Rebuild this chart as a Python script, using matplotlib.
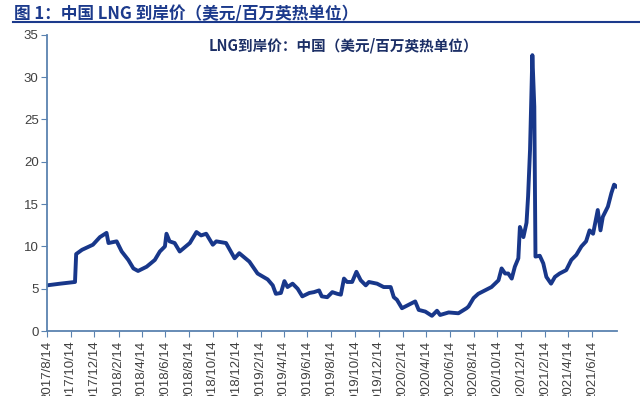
import matplotlib
matplotlib.use('Agg')
import matplotlib.pyplot as plt
import pandas as pd

# LNG landed price, China (USD/MMBtu)
dates = [
    "2017-08-14", "2017-09-17", "2017-10-25", "2017-10-28", "2017-11-12",
    "2017-12-10", "2017-12-28", "2018-01-14", "2018-01-19", "2018-02-09",
    "2018-02-22", "2018-03-11", "2018-03-24", "2018-04-05", "2018-04-27",
    "2018-05-18", "2018-05-31", "2018-06-13", "2018-06-17", "2018-06-25",
    "2018-07-08", "2018-07-21", "2018-08-16", "2018-09-02", "2018-09-14",
    "2018-09-27", "2018-10-14", "2018-10-23", "2018-11-17", "2018-12-09",
    "2018-12-21", "2019-01-16", "2019-02-06", "2019-03-04", "2019-03-17",
    "2019-03-25", "2019-04-07", "2019-04-16", "2019-04-24", "2019-05-07",
    "2019-05-20", "2019-06-01", "2019-06-19", "2019-07-01", "2019-07-14",
    "2019-07-21", "2019-08-04", "2019-08-17", "2019-08-30", "2019-09-08",
    "2019-09-16", "2019-09-24", "2019-10-07", "2019-10-18", "2019-10-29",
    "2019-11-11", "2019-11-19", "2019-12-10", "2019-12-27", "2020-01-14",
    "2020-01-22", "2020-01-30", "2020-02-12", "2020-02-29", "2020-03-17",
    "2020-03-26", "2020-04-12", "2020-04-29", "2020-05-12", "2020-05-20",
    "2020-06-11", "2020-07-06", "2020-07-27", "2020-08-01", "2020-08-14",
    "2020-08-26", "2020-09-12", "2020-09-29", "2020-10-17", "2020-10-25",
    "2020-11-03", "2020-11-11", "2020-11-20", "2020-11-28", "2020-12-07",
    "2020-12-11", "2020-12-20", "2020-12-28", "2021-01-01", "2021-01-06",
    "2021-01-12", "2021-01-17", "2021-01-20", "2021-01-31", "2021-02-09",
    "2021-02-17", "2021-03-01", "2021-03-11", "2021-03-23", "2021-04-09",
    "2021-04-22", "2021-05-05", "2021-05-18", "2021-05-30", "2021-06-08",
    "2021-06-17", "2021-06-29", "2021-07-06", "2021-07-12", "2021-07-25",
    "2021-08-03", "2021-08-10", "2021-08-15",
]
prices = [
    5.4, 5.6, 5.8, 9.1, 9.6,
    10.2, 11.1, 11.6, 10.4, 10.6,
    9.4, 8.4, 7.4, 7.1, 7.6,
    8.4, 9.4, 10.0, 11.5, 10.6,
    10.4, 9.4, 10.4, 11.7, 11.3,
    11.5, 10.2, 10.6, 10.4, 8.6,
    9.2, 8.2, 6.8, 6.1, 5.4,
    4.4, 4.5, 5.9, 5.2, 5.6,
    5.0, 4.1, 4.5, 4.6, 4.8,
    4.1, 4.0, 4.6, 4.4, 4.3,
    6.2, 5.8, 5.8, 7.0, 6.0,
    5.4, 5.8, 5.6, 5.2, 5.2,
    4.0, 3.7, 2.7, 3.1, 3.5,
    2.5, 2.3, 1.8, 2.4, 1.9,
    2.2, 2.1, 2.7, 2.9, 3.9,
    4.4, 4.8, 5.2, 6.0, 7.4,
    6.8, 6.8, 6.2, 7.6, 8.6,
    12.3, 11.1, 12.8, 15.9, 21.4,
    32.6, 26.5, 8.8, 8.9, 8.0,
    6.4, 5.6, 6.4, 6.8, 7.2,
    8.4, 9.0, 10.0, 10.6, 11.9,
    11.5, 14.3, 11.9, 13.5, 14.7,
    16.3, 17.3, 17.1,
]

tick_dates = [
    "2017-08-14", "2017-10-14", "2017-12-14", "2018-02-14", "2018-04-14",
    "2018-06-14", "2018-08-14", "2018-10-14", "2018-12-14", "2019-02-14",
    "2019-04-14", "2019-06-14", "2019-08-14", "2019-10-14", "2019-12-14",
    "2020-02-14", "2020-04-14", "2020-06-14", "2020-08-14", "2020-10-14",
    "2020-12-14", "2021-02-14", "2021-04-14", "2021-06-14",
]
tick_labels = [
    "2017/8/14", "2017/10/14", "2017/12/14", "2018/2/14", "2018/4/14",
    "2018/6/14", "2018/8/14", "2018/10/14", "2018/12/14", "2019/2/14",
    "2019/4/14", "2019/6/14", "2019/8/14", "2019/10/14", "2019/12/14",
    "2020/2/14", "2020/4/14", "2020/6/14", "2020/8/14", "2020/10/14",
    "2020/12/14", "2021/2/14", "2021/4/14", "2021/6/14",
]
y_ticks = [0, 5, 10, 15, 20, 25, 30, 35]

title = "图 1：中国 LNG 到岸价（美元/百万英热单位）"
series_name = "LNG到岸价：中国（美元/百万英热单位）"

cjk = ['Noto Sans CJK SC', 'DejaVu Sans']
navy = '#18378a'
spine_col = '#5a82b0'

fig = plt.figure(figsize=(6.4, 3.96), dpi=100)
ax = fig.add_axes([0.0734, 0.164, 0.891, 0.748])

x = pd.to_datetime(dates)
ax.plot(x, prices, color=navy, linewidth=2.8, solid_joinstyle='round')

ax.set_ylim(0, 35)
ax.set_yticks(y_ticks)
ax.set_xlim(pd.Timestamp("2017-08-14"), pd.Timestamp("2021-08-18"))
ax.set_xticks(pd.to_datetime(tick_dates))
ax.set_xticklabels(tick_labels, rotation=90, va='top', ha='center')

for lab in ax.get_xticklabels() + ax.get_yticklabels():
    lab.set_family('Liberation Sans')
    lab.set_color('#404040')
ax.tick_params(axis='x', labelsize=9.5, length=4, color=spine_col, pad=3)
ax.tick_params(axis='y', labelsize=9.5, length=4, color=spine_col, pad=2)

for s in ['top', 'right']:
    ax.spines[s].set_visible(False)
for s in ['left', 'bottom']:
    ax.spines[s].set_color(spine_col)
    ax.spines[s].set_linewidth(1.3)

ax.text(0.52, 0.965, series_name, transform=ax.transAxes, ha='center', va='center',
        fontsize=10.5, fontweight='bold', color='#1c2f66', family=cjk)

fig.text(0.022, 0.965, title, ha='left', va='center', fontsize=12,
         fontweight='bold', color='#1c3a8c', family=cjk)
fig.add_artist(plt.Line2D([0.02, 1.0], [0.944, 0.944], transform=fig.transFigure,
                          color='#1c3a8c', linewidth=1.5))

plt.savefig('out.png', dpi=100)
plt.close()
